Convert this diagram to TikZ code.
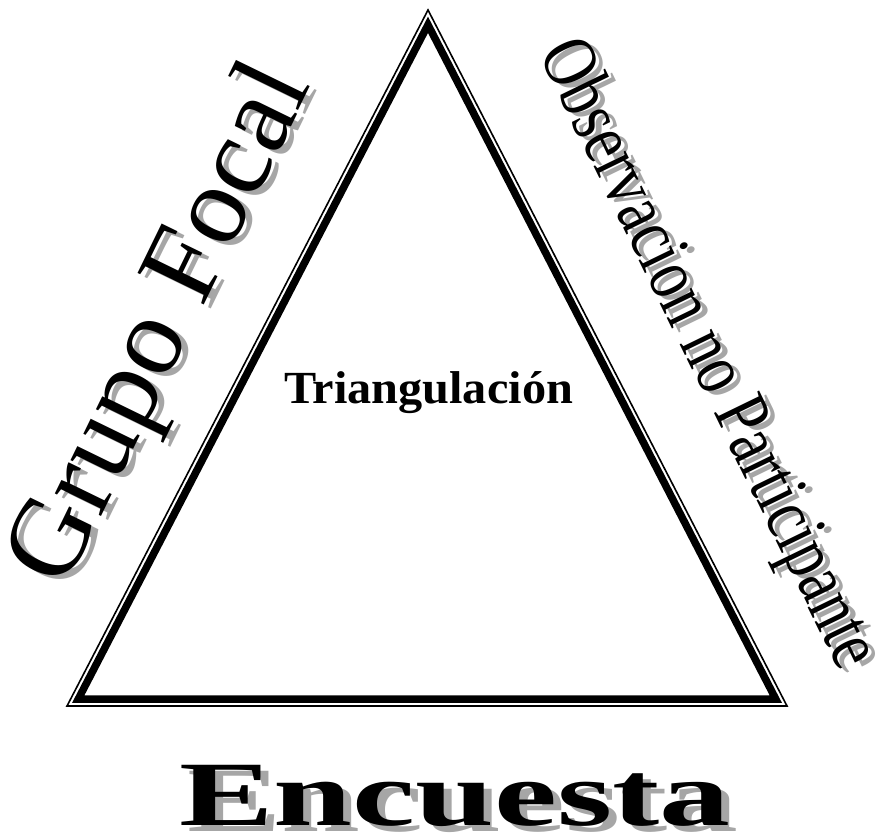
\documentclass[tikz,border=0pt]{standalone}
\usepackage{fontspec}
\setmainfont{Liberation Serif}
\usepackage{tikz}
\usetikzlibrary{backgrounds}
\usetikzlibrary{calc}
\usetikzlibrary{positioning}

\begin{document}
\begin{tikzpicture}[
  x=1pt, y=1pt,
  % hairline outside, heavy line inside
  triOuter/.style={draw=black, line width=1.6pt, line join=miter},
  triInner/.style={draw=black, line width=7.5pt, line join=miter},
  wordArt/.style={inner sep=0pt, text=black},
  wordShadow/.style={inner sep=0pt, text=black!35},
]

\tikzset{
  sideText/.style 2 args={
    font=\fontsize{#1}{#1}\selectfont,
    rotate=#2
  }
}

\useasboundingbox (0,0) rectangle (881,-838);

% --- triangle corners ---
\coordinate (apex) at (428,-10);
\coordinate (cornerL) at (67,-706);
\coordinate (cornerR) at (787,-706);
\coordinate (inCtr) at (427.5,-487);

\draw[triOuter] (apex) -- (cornerL) -- (cornerR) -- cycle;
\draw[triInner] ($(inCtr)!0.969!(apex)$) -- ($(inCtr)!0.969!(cornerL)$)
  -- ($(inCtr)!0.969!(cornerR)$) -- cycle;

% --- labels ---
\node[wordArt, anchor=base, font=\fontsize{46}{46}\selectfont\bfseries, xscale=1.05]
  (triLabel) at (428.5,-403) {Triangulación};

\node[wordArt, sideText={112}{64}] (grupo) at (164,-326) {Grupo Focal};
\node[wordArt, sideText={77}{-64}, xscale=0.79] (obs) at (706,-355) {Observacion no Participante};
\node[wordArt, anchor=base, font=\fontsize{92}{92}\selectfont\bfseries, xscale=1.54]
  (encuesta) at (455,-825) {Encuesta};

\begin{pgfonlayer}{background}
% gray drop shadows
\node[wordShadow, sideText={112}{64}] (grupoSh) at ([xshift=7,yshift=-4]grupo.center) {Grupo Focal};
\node[wordShadow, sideText={77}{-64}, xscale=0.79] (obsSh) at ([xshift=7,yshift=-4]obs.center) {Observacion no Participante};
\node[wordShadow, anchor=base, font=\fontsize{92}{92}\selectfont\bfseries, xscale=1.54]
  (encuestaSh) at ([xshift=8,yshift=-6]encuesta.base) {Encuesta};
\end{pgfonlayer}

\end{tikzpicture}
\end{document}
